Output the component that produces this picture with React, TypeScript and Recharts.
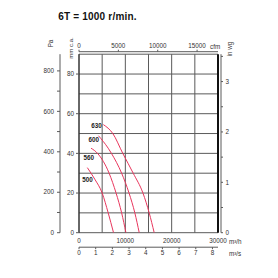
import { LineChart, Line, XAxis, YAxis, ReferenceLine } from "recharts";

// fan curves, flow in m3/h, pressure in mm c.a.
const fan500 = [
  { q: 1800, h: 32.8 },
  { q: 3400, h: 27 },
  { q: 5000, h: 20 },
  { q: 6300, h: 10 },
  { q: 7450, h: 0 },
];
const fan560 = [
  { q: 2600, h: 42.6 },
  { q: 4000, h: 40 },
  { q: 6500, h: 30 },
  { q: 8000, h: 20 },
  { q: 9200, h: 10 },
  { q: 10130, h: 0 },
];
const fan600 = [
  { q: 4200, h: 48.9 },
  { q: 6300, h: 42.6 },
  { q: 7000, h: 40 },
  { q: 9200, h: 30 },
  { q: 10800, h: 20 },
  { q: 12050, h: 10 },
  { q: 13000, h: 0 },
];
const fan630 = [
  { q: 5250, h: 54.5 },
  { q: 7300, h: 50 },
  { q: 9450, h: 40 },
  { q: 11700, h: 30 },
  { q: 13800, h: 20 },
  { q: 15150, h: 10 },
  { q: 16230, h: 0 },
];

const flowGrid = [0, 5000, 10000, 15000, 20000, 25000];
const flowTicks = [0, 10000, 20000, 30000];
const mmGrid = [0, 10, 20, 30, 40, 50, 60, 70, 80, 90];
const mmTicks = [0, 20, 40, 60, 80];
const paTicks = [0, 100, 200, 300, 400, 500, 600, 700, 800];
const inwgTicks = [0, 0.5, 1, 1.5, 2, 2.5, 3, 3.5];
const cfmTicks = [0, 5000, 10000, 15000];
const m3sTicks = [0, 1, 2, 3, 4, 5, 6, 7, 8];

const FLOW_MAX = 30000;
const MM_MAX = 90;
const PA_PER_MM = 9.80665;
const M3H_PER_CFM = 1.699;
const M3H_PER_M3S = 3600;
const MM_PER_INWG = 25.4;

// axis frame so the secondary flow axes (cfm, m3/s) have something to scale against
const flowFrame = flowGrid.map((q) => ({ q }));

const RED = "#e8365d";
const GRID = "#5a5a5a";
const TXT = "#333";
const FONT = '"Liberation Sans", Arial, sans-serif';
const tickStyle = { fontSize: 6.3, fill: TXT, fontFamily: FONT };

function curveLabel(name: string, dx: number, dy: number) {
  return (p: any) =>
    p.index === 0 ? (
      <text
        x={p.x + dx}
        y={p.y + dy}
        textAnchor="end"
        dominantBaseline="central"
        fontSize={6.3}
        fontWeight="bold"
        fill="#222"
        fontFamily={FONT}
      >
        {name}
      </text>
    ) : null;
}

const series = [
  { name: "500", data: fan500, dx: 5.4, dy: 11.6 },
  { name: "560", data: fan560, dx: 3, dy: 9.4 },
  { name: "600", data: fan600, dx: 0.5, dy: 4 },
  { name: "630", data: fan630, dx: -1.5, dy: 1 },
];

// axis ids are prefixed a_/b_ so the stacking order (next to plot first) is fixed
export default function App() {
  return (
    <div
      style={{
        position: "absolute",
        left: 0,
        top: 0,
        width: 278,
        height: 278,
        background: "#fff",
      }}
    >
      <LineChart
        width={278}
        height={278}
        data={flowFrame}
        margin={{ top: 41.7, right: 37, bottom: 18.8, left: 30 }}
      >
        <XAxis
          xAxisId="a_q"
          type="number"
          dataKey="q"
          orientation="bottom"
          domain={[0, FLOW_MAX]}
          allowDataOverflow
          ticks={flowTicks}
          height={14.5}
          axisLine={false}
          tickLine={false}
          tickSize={0}
          tickMargin={6}
          tick={tickStyle}
          interval={0}
        />
        <XAxis
          xAxisId="b_ms"
          type="number"
          dataKey={(d: any) => d.q / M3H_PER_M3S}
          orientation="bottom"
          domain={[0, FLOW_MAX / M3H_PER_M3S]}
          allowDataOverflow
          ticks={m3sTicks}
          height={12}
          axisLine={{ stroke: GRID }}
          tickLine={{ stroke: GRID }}
          tickSize={2}
          tickMargin={1}
          tick={tickStyle}
          interval={0}
        />
        <XAxis
          xAxisId="a_padTop"
          type="number"
          dataKey="q"
          orientation="top"
          domain={[0, FLOW_MAX]}
          height={2.5}
          tick={false}
          axisLine={false}
          tickLine={false}
        />
        <XAxis
          xAxisId="b_cfm"
          type="number"
          dataKey={(d: any) => d.q / M3H_PER_CFM}
          orientation="top"
          domain={[0, FLOW_MAX / M3H_PER_CFM]}
          allowDataOverflow
          ticks={cfmTicks}
          height={10}
          axisLine={{ stroke: GRID }}
          tickLine={{ stroke: GRID }}
          tickSize={2}
          tickMargin={1.5}
          tick={tickStyle}
          interval={0}
        />
        <YAxis
          yAxisId="a_mm"
          type="number"
          orientation="left"
          domain={[0, MM_MAX]}
          allowDataOverflow
          ticks={mmTicks}
          width={19}
          axisLine={{ stroke: "#222" }}
          tickLine={{ stroke: GRID }}
          tickSize={3}
          tickMargin={2}
          tick={tickStyle}
          interval={0}
        />
        <YAxis
          yAxisId="b_pa"
          type="number"
          orientation="left"
          domain={[0, MM_MAX * PA_PER_MM]}
          allowDataOverflow
          ticks={paTicks}
          width={30}
          axisLine={{ stroke: GRID }}
          tickLine={{ stroke: GRID }}
          tickSize={3}
          tickMargin={3}
          tick={tickStyle}
          tickFormatter={(v: number) => (v % 200 === 0 ? String(v) : "")}
          interval={0}
        />
        <YAxis
          yAxisId="a_padRight"
          type="number"
          orientation="right"
          domain={[0, 1]}
          width={3}
          tick={false}
          axisLine={false}
          tickLine={false}
        />
        <YAxis
          yAxisId="b_inwg"
          type="number"
          orientation="right"
          domain={[0, MM_MAX / MM_PER_INWG]}
          allowDataOverflow
          ticks={inwgTicks}
          width={20}
          axisLine={{ stroke: GRID }}
          tickLine={{ stroke: GRID }}
          tickSize={2}
          tickMargin={2.5}
          tick={tickStyle}
          tickFormatter={(v: number) => (Number.isInteger(v) ? String(v) : "")}
          interval={0}
        />

        {mmGrid.map((v) => (
          <ReferenceLine
            key={"h" + v}
            xAxisId="a_q"
            yAxisId="a_mm"
            y={v}
            stroke={GRID}
            strokeWidth={1}
          />
        ))}
        {flowGrid.map((v) => (
          <ReferenceLine
            key={"v" + v}
            xAxisId="a_q"
            yAxisId="a_mm"
            x={v}
            stroke={GRID}
            strokeWidth={1}
          />
        ))}
        <ReferenceLine
          xAxisId="a_q"
          yAxisId="a_mm"
          x={FLOW_MAX}
          stroke="#111"
          strokeWidth={2}
        />

        {series.map((s) => (
          <Line
            key={s.name}
            xAxisId="a_q"
            yAxisId="a_mm"
            data={s.data}
            dataKey="h"
            type="monotone"
            stroke={RED}
            strokeWidth={1}
            dot={false}
            isAnimationActive={false}
            label={curveLabel(s.name, s.dx, s.dy)}
          />
        ))}

        <text
          x={97.5}
          y={20.3}
          textAnchor="middle"
          fontSize={10}
          fontWeight="bold"
          letterSpacing={0.2}
          fill="#111"
          fontFamily={FONT}
        >
          6T = 1000 r/min.
        </text>
        <text x={50.5} y={43.5} transform="rotate(-90 50.5 43.5)" textAnchor="middle" dominantBaseline="central" fontSize={6.3} fill={TXT} fontFamily={FONT}>
          Pa
        </text>
        <text x={70.5} y={48} transform="rotate(-90 70.5 48)" textAnchor="middle" dominantBaseline="central" fontSize={6} fill={TXT} fontFamily={FONT}>
          mm c.a.
        </text>
        <text x={229.5} y={49} transform="rotate(-90 229.5 49)" textAnchor="middle" dominantBaseline="central" fontSize={6.3} fill={TXT} fontFamily={FONT}>
          in wg
        </text>
        <text x={210} y={46} dominantBaseline="central" fontSize={6.3} fill={TXT} fontFamily={FONT}>
          cfm
        </text>
        <text x={229} y={241.5} dominantBaseline="central" fontSize={6.3} fill={TXT} fontFamily={FONT}>
          m³/h
        </text>
        <text x={229} y={253} dominantBaseline="central" fontSize={6.3} fill={TXT} fontFamily={FONT}>
          m³/s
        </text>
      </LineChart>
    </div>
  );
}
